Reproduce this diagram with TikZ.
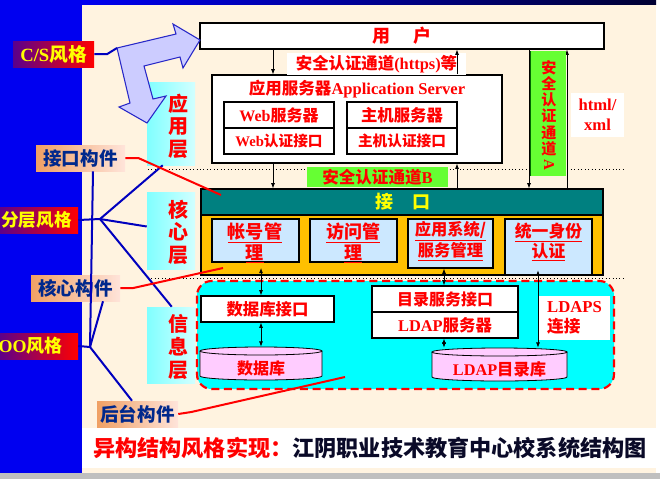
\documentclass[tikz,border=0pt]{standalone}
\usepackage{fontspec}
\setmainfont{Liberation Serif}
\newfontfamily\cjk{Noto Sans CJK SC}
\usetikzlibrary{fit,calc,arrows.meta}
\newcommand\zh[1]{{\cjk #1}}
\newcommand\fsz[2]{\fontsize{#1}{#2}\selectfont}

\definecolor{panelblue}{RGB}{0,0,240}
\definecolor{beige}{RGB}{255,243,224}
\definecolor{navy}{RGB}{0,0,50}
\definecolor{tealbar}{RGB}{0,128,128}
\definecolor{gold}{RGB}{255,192,0}
\definecolor{paleblue}{RGB}{204,232,255}
\definecolor{grn}{RGB}{102,255,51}
\definecolor{pinkdb}{RGB}{255,204,255}
\definecolor{infocyan}{RGB}{0,255,255}
\definecolor{layerleft}{RGB}{128,255,255}
\definecolor{layerright}{RGB}{210,255,255}
\definecolor{lav}{RGB}{204,204,255}
\definecolor{lavline}{RGB}{40,40,200}
\definecolor{lineblue}{RGB}{0,0,190}
\definecolor{tagtext}{RGB}{0,40,140}
\definecolor{tagleft}{RGB}{240,160,100}
\definecolor{tagright}{RGB}{255,228,218}
\definecolor{styleleft}{RGB}{90,0,140}
\definecolor{redtxt}{RGB}{255,0,0}
\definecolor{yel}{RGB}{255,255,0}
\definecolor{capnavy}{RGB}{10,10,40}

\begin{document}
\begin{tikzpicture}[x=0.75pt,y=-0.75pt,
  box/.style={draw=black,line width=0.8pt,fill=white,inner sep=0pt},
  txt/.style={inner sep=0pt,align=center,text=redtxt},
  lat/.style={txt,font=\bfseries\fsz{#1}{15}},
  han/.style={txt,font=\cjk\bfseries\fsz{#1}{16}},
  corebox/.style={draw=black,line width=0.8pt,fill=paleblue,inner sep=0pt},
  layerbox/.style={inner sep=0pt,left color=layerleft,right color=layerright},
  layertext/.style={txt,font=\cjk\bfseries\fsz{15}{16.9}},
  tagbox/.style={inner sep=0pt,left color=tagleft,right color=tagright},
  tagtxt/.style={inner sep=0pt,text=tagtext,font=\cjk\bfseries\fsz{13.9}{16}},
  stylebox/.style={inner sep=0pt,left color=styleleft,right color=redtxt},
  arr/.style={-{Latex[length=4pt,width=3pt]},line width=0.6pt},
  darr/.style={{Latex[length=4pt,width=3pt]}-{Latex[length=4pt,width=3pt]},line width=0.6pt},
  bl/.style={draw=lineblue,line width=1.5pt},
  rl/.style={draw=redtxt,line width=1.5pt},
]
\useasboundingbox (0,0) rectangle (660,479);

% page background
\fill[white] (0,0) rectangle (660,479);
\fill[black!25] (0,473) rectangle (660,479);
\fill[beige] (82,4) rectangle (656,473);
\fill[panelblue] (0,0) rectangle (82,473);
\shade[left color=panelblue,right color=navy] (82,0) rectangle (656,4);
\fill[white] (82,428) rectangle (656,468);

% layer separators
\draw[dotted,line width=0.6pt] (148,169) -- (623,169);
\draw[dotted,line width=0.6pt] (148,278) -- (623,278);

% layer labels
\node[layerbox,fit={(147,82)(195,165)}] (yy) {};
\node[layertext] at (178,126) {应\\用\\层};
\node[layerbox,fit={(147,192)(195,269)}] (hx) {};
\node[layertext] at (178,232) {核\\心\\层};
\node[layerbox,fit={(147,307)(195,383)}] (xx) {};
\node[layertext] at (178,347) {信\\息\\层};

% user
\node[box,fit={(200,23)(604,49)}] (user) {};
\node[han=13.5] at (402,36) {用\hspace{1.3em}户};

% application server
\node[box,fit={(212,75)(502,163)}] (app) {};
\node[lat=12.4] at (357,89) {\zh{应用服务器}Application Server};
\node[box,fit={(224,102)(334,128)}] (web1) {};
\node[lat=12] at (web1.center) {Web\zh{服务器}};
\node[box,fit={(224,128)(334,154)}] (web2) {};
\node[lat=11] at (web2.center) {Web\zh{认证接口}};
\node[box,fit={(347,102)(457,128)}] (host1) {};
\node[han=12.3] at (host1.center) {主机服务器};
\node[box,fit={(347,128)(457,154)}] (host2) {};
\node[han=11] at (host2.center) {主机认证接口};

% https label
\node[fill=white,inner sep=0pt,fit={(287,53)(466,75)}] (https) {};
\node[lat=12.3] at (https.center) {\zh{安全认证通道}(https)\zh{等}};

% html/xml label
\node[fill=white,inner sep=0pt,fit={(571,93)(624,137)}] (html) {};
\node[txt,font=\bfseries\fsz{12.5}{15}] at (html.center) {html/\\xml};

% interface bar and core components
\node[inner sep=0pt,fill=gold,draw=black,line width=0.8pt,fit={(201,189)(603,275)}] (core) {};
\node[inner sep=0pt,fill=tealbar,draw=black,line width=0.8pt,fit={(201,189)(603,215)}] (iface) {};
\node[inner sep=0pt,text=yel,font=\cjk\bfseries\fsz{13.5}{16}] at (403,202) {接\hspace{1.08em}口};
\node[corebox,fit={(212,219)(299,262)}] (acct) {};
\node[txt,font=\cjk\bfseries\fsz{13.6}{15.2}] at (255,243) {\underline{帐号管}\\\underline{理}};
\node[corebox,fit={(310,219)(397,262)}] (visit) {};
\node[txt,font=\cjk\bfseries\fsz{13.5}{15.2}] at (353,243) {\underline{访问管}\\\underline{理}};
\node[corebox,fit={(408,219)(493,268)}] (appsys) {};
\node[txt,font=\cjk\bfseries\fsz{12.2}{13.8}] at (450.5,241) {\underline{应用系统/}\\\underline{服务管理}};
\node[corebox,fit={(505,219)(592,275)}] (auth) {};
\node[txt,font=\cjk\bfseries\fsz{12.6}{15}] at (548.5,242) {\underline{统一身份}\\\underline{认证}};

% information layer
\draw[fill=infocyan,draw=redtxt,line width=1.6pt,dash pattern=on 6pt off 3.5pt,rounded corners=11pt] (197,281) rectangle (614,389);
\node[box,fit={(201,296)(334,322)}] (dbif) {};
\node[han=12.3] at (dbif.center) {数据库接口};
\node[box,fit={(372,286)(518,312)}] (dir1) {};
\node[han=12] at (dir1.center) {目录服务接口};
\node[box,fit={(372,312)(518,338)}] (dir2) {};
\node[lat=12.3] at (dir2.center) {LDAP\zh{服务器}};

% database cylinders
\fill[pinkdb] (200,351) -- (200,376) arc[start angle=180,end angle=0,x radius=61,y radius=4] -- (322,351) -- cycle;
\draw[line width=0.6pt] (200,351) -- (200,376) arc[start angle=180,end angle=0,x radius=61,y radius=4] -- (322,351);
\draw[line width=0.6pt,fill=pinkdb] (261,351) ellipse[x radius=61,y radius=4];
\node[inner sep=0pt,fit={(200,347)(322,380)}] (db) {};
\node[han=12] at (261,368) {数据库};

\fill[pinkdb] (432,352) -- (432,377) arc[start angle=180,end angle=0,x radius=67.5,y radius=4] -- (567,352) -- cycle;
\draw[line width=0.6pt] (432,352) -- (432,377) arc[start angle=180,end angle=0,x radius=67.5,y radius=4] -- (567,352);
\draw[line width=0.6pt,fill=pinkdb] (499.5,352) ellipse[x radius=67.5,y radius=4];
\node[inner sep=0pt,fit={(432,348)(567,381)}] (ldapdb) {};
\node[lat=12.2] at (499.5,369) {LDAP\zh{目录库}};

% LDAPS label
\node[fill=white,inner sep=0pt,fit={(539,296)(610,340)}] (ldaps) {};
\node[txt,align=left,font=\bfseries\fsz{12.5}{14.5}] at (ldaps.center) {LDAPS\\\zh{连接}};

% vertical connectors
\coordinate (xa) at (273,0);
\coordinate (xb) at (457,0);
\coordinate (xc) at (529,0);
\coordinate (xd) at (567,0);
\coordinate (xe) at (261,0);
\coordinate (xf) at (444,0);
\coordinate (xg) at (538,0);
\draw[arr] (user.south -| xa) -- (app.north -| xa);
\draw[arr] (app.north -| xb) -- (user.south -| xb);
\draw[arr] (app.south -| xa) -- (iface.north -| xa);
\draw[arr] (iface.north -| xb) -- (app.south -| xb);
\draw[arr] (user.south -| xc) -- (iface.north -| xc);
\draw[arr] (iface.north -| xd) -- (user.south -| xd);
\draw[darr,shorten <=4pt] (acct.south -| xe) -- (dbif.north -| xe);
\draw[darr] (dbif.south -| xe) -- (db.north -| xe);
\draw[darr] (appsys.south -| xf) -- (dir1.north -| xf);
\draw[darr] (dir2.south -| xf) -- (ldapdb.north -| xf);
\draw[darr,shorten <=-4pt] (auth.south -| xg) -- (ldapdb.north -| xg);

% secure channels
\fill[grn] (530,51) rectangle (566,176);
\draw[green!40!black,line width=0.6pt] (530,51) -- (530,176);
\node[txt,font=\cjk\bfseries\fsz{11.3}{12.2}] (chanA) at (549,108) {安\\全\\认\\证\\通\\道};
\node[inner sep=0pt,rotate=-90,text=redtxt,font=\bfseries\fsz{11.3}{12}] at (549,165) {A};
\node[fill=grn,inner sep=0pt,fit={(307,167)(448,187)}] (chanB) {};
\node[lat=12.4] at (chanB.center) {\zh{安全认证通道}B};

% C/S arrow
\draw[fill=lav,draw=lavline,line width=0.8pt,line join=miter]
  (117,48) -- (176,34) -- (173,24) -- (200,40) -- (183,68) -- (180,57) -- (144,66)
  -- (153,99) -- (166,96) -- (147,123) -- (119,107) -- (130,103) -- cycle;
\coordinate (csarrow) at (117,48);

% style tags
\node[stylebox,fit={(13,41)(94,67)}] (cs) {};
\node[inner sep=0pt,text=yel,font=\bfseries\fsz{14}{16}] at (cs.center) {C/S\zh{风格}};
\node[stylebox,fit={(-2,207)(78,233)}] (fc) {};
\node[inner sep=0pt,text=yel,font=\cjk\bfseries\fsz{13.2}{16},anchor=east] at (72,220) {分层风格};
\node[stylebox,fit={(-2,333)(78,359)}] (oo) {};
\node[inner sep=0pt,text=yel,font=\bfseries\fsz{13.5}{16},anchor=east] at (63,346) {OO\zh{风格}};

% component tags
\node[tagbox,fit={(36,145)(125,171)}] (jk) {};
\node[tagtxt] at (jk.center) {接口构件};
\node[tagbox,fit={(31,275)(120,301)}] (hc) {};
\node[tagtxt] at (hc.center) {核心构件};
\node[tagbox,fit={(97,401)(178,427)}] (ht) {};
\node[tagtxt] at (ht.center) {后台构件};

% blue links
\coordinate (J1) at (100,219);
\coordinate (J2) at (90,347);
\draw[bl] (cs.east) -- ++(13,0) -- (csarrow);
\draw[bl] (fc.east) -- (J1);
\draw[bl] (J1) -- ($(yy.south west)+(16,0)$);
\draw[bl] (J1) -- ($(hx.west)+(0,-4)$);
\draw[bl] (J1) -- ($(xx.north west)+(25,0)$);
\draw[bl] ($(jk.south)+(12.5,0)$) -- (J2);
\draw[bl] ($(hc.south)+(27.5,0)$) -- (J2);
\draw[bl] (oo.east) -- (J2);
\draw[bl] (J2) -- ($(ht.north)+(-5.5,0)$);

% red links
\coordinate (jkend) at (221,195);
\coordinate (hcend) at (223,268);
\coordinate (htend) at (345,377);
\draw[rl] (jk.east) -- ++(13,0) -- (jkend);
\draw[rl] (hc.east) -- ++(13,0) -- (hcend);
\draw[rl] (ht.east) -- ++(13,-2) -- (htend);

% caption
\node[anchor=west,inner sep=0pt,font=\cjk\bfseries\fsz{16.6}{20}] (caption) at (93,448)
  {\textcolor{redtxt}{异构结构风格实现：}\textcolor{capnavy}{江阴职业技术教育中心校系统结构图}};
\end{tikzpicture}
\end{document}
